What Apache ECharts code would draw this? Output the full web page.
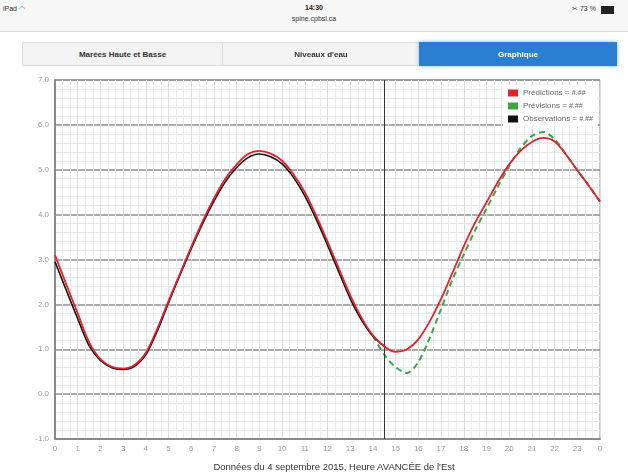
<!DOCTYPE html>
<html>
<head>
<meta charset="utf-8">
<script src="https://cdn.jsdelivr.net/npm/echarts@6/dist/echarts.min.js"></script>
<style>
  html, body { margin: 0; padding: 0; background: #fff; width: 628px; height: 475px; overflow: hidden; font-family: "Liberation Sans", Arial, sans-serif; }
  #chart { position: absolute; left: 0; top: 0; width: 628px; height: 475px; }
  .abs { position: absolute; white-space: nowrap; z-index: 5; }
  #status { position: absolute; left: 0; top: 0; width: 628px; height: 31px; background: #f7f7f7; border-bottom: 1px solid #d8d8d8; z-index: 4; }
  .tab { position: absolute; top: 42px; height: 24px; line-height: 24px; text-align: center; font-size: 8px; font-weight: bold; color: #333; background: #f3f3f3; border: 1px solid #dcdcdc; box-sizing: border-box; z-index: 5; }
  #footer { position: absolute; left: 0; width: 668px; top: 461px; text-align: center; font-size: 9.5px; color: #333; z-index: 5; }
</style>
</head>
<body>
<div id="chart"></div>
<div id="status"></div>
<div class="abs" style="left:3px;top:5px;font-size:7px;color:#333;">iPad &#x25E0;</div>
<div class="abs" style="left:0;width:628px;text-align:center;top:4px;font-size:7px;font-weight:bold;color:#222;">14:30</div>
<div class="abs" style="left:0;width:628px;text-align:center;top:15px;font-size:7px;color:#333;">spine.cpbsl.ca</div>
<div class="abs" style="left:572px;top:5px;font-size:7px;color:#333;">&#x2702; 73 %</div>
<div class="abs" style="left:601px;top:6px;width:11px;height:6px;background:#222;border:1px solid #222;"></div>
<div class="tab" style="left:22px;width:201px;">Marées Haute et Basse</div>
<div class="tab" style="left:222px;width:198px;">Niveaux d'eau</div>
<div class="tab" style="left:419px;width:198px;background:#2b7fd2;border-color:#2b7fd2;color:#fff;box-shadow:0 0 4px #7fb4ea;">Graphique</div>
<div id="footer">Données du 4 septembre 2015, Heure AVANCÉE de l'Est</div>
<script>
// ---- data (half-hourly) ----
const predHours  = [0,0.5,1,1.5,2,2.5,3,3.5,4,4.5,5,5.5,6,6.5,7,7.5,8,8.5,9,9.5,10,10.5,11,11.5,12,12.5,13,13.5,14,14.5,15,15.5,16,16.5,17,17.5,18,18.5,19,19.5,20,20.5,21,21.5,22,22.5,23,23.5,24];
const predValues = [3.10,2.44,1.80,1.16,0.78,0.61,0.57,0.65,0.92,1.45,2.08,2.68,3.28,3.85,4.36,4.80,5.12,5.35,5.42,5.36,5.20,4.90,4.50,3.98,3.40,2.80,2.20,1.70,1.31,1.06,0.94,1.00,1.22,1.62,2.12,2.70,3.29,3.82,4.27,4.72,5.12,5.42,5.62,5.71,5.63,5.34,4.99,4.65,4.29];

const obsHours  = [0,0.5,1,1.5,2,2.5,3,3.5,4,4.5,5,5.5,6,6.5,7,7.5,8,8.5,9,9.5,10,10.5,11,11.5,12,12.5,13,13.5,14,14.5];
const obsValues = [2.95,2.31,1.68,1.08,0.75,0.59,0.55,0.62,0.88,1.40,2.04,2.65,3.24,3.80,4.30,4.73,5.05,5.27,5.35,5.29,5.13,4.83,4.42,3.90,3.32,2.72,2.13,1.65,1.29,1.07];

const fcstHours  = [14,14.5,15,15.5,16,16.5,17,17.5,18,18.5,19,19.5,20,20.5,21,21.5,22,22.5,23,23.5,24];
const fcstValues = [1.30,0.88,0.60,0.47,0.72,1.25,1.90,2.55,3.11,3.65,4.13,4.62,5.08,5.48,5.75,5.84,5.68,5.34,4.99,4.65,4.29];

const nowHour = [14.5];
const seriesNames = ['Prédictions', 'Prévisions', 'Observations'];
const seriesColors = ['#e3202b', '#3aa648', '#111111'];

function pairs(xs, ys) { return xs.map((x, i) => [x, ys[i]]); }

const chart = echarts.init(document.getElementById('chart'), null, { renderer: 'canvas' });
chart.setOption({
  animation: false,
  grid: { left: 55, right: 28, top: 80, bottom: 36, show: true, borderColor: '#8a8a8a', borderWidth: 1, backgroundColor: 'transparent' },
  legend: {
    orient: 'vertical', left: 503, top: 85, backgroundColor: '#fff',
    padding: [4, 5, 3, 5], itemGap: 5, itemWidth: 10, itemHeight: 7, icon: 'rect',
    data: seriesNames.map((n, i) => ({ name: n, itemStyle: { color: seriesColors[i] } })),
    formatter: name => name + ' = {i|#.##}',
    textStyle: { fontSize: 8, color: '#666', fontFamily: 'Liberation Sans', rich: { i: { fontSize: 7, fontStyle: 'italic', color: '#666' } } }
  },
  xAxis: {
    type: 'value', min: 0, max: 24, interval: 1,
    axisLine: { show: true, onZero: false, lineStyle: { color: '#8a8a8a', width: 2 } },
    axisTick: { show: false },
    axisLabel: { fontSize: 8, color: '#999', margin: 6, fontFamily: 'Liberation Sans', formatter: v => String(v % 24) },
    splitLine: { show: true, lineStyle: { color: '#dedede', width: 1 } },
    minorTick: { show: false, splitNumber: 3 },
    minorSplitLine: { show: true, lineStyle: { color: '#ececec', width: 1 } }
  },
  yAxis: {
    type: 'value', min: -1, max: 7, interval: 1,
    axisLine: { show: true, lineStyle: { color: '#8a8a8a', width: 2 } },
    axisTick: { show: false },
    axisLabel: { fontSize: 8, color: '#999', margin: 6, fontFamily: 'Liberation Sans', formatter: v => v.toFixed(1) },
    splitLine: { show: true, lineStyle: { color: '#8f8f8f', width: 1.5 } },
    minorTick: { show: false, splitNumber: 5 },
    minorSplitLine: { show: true, lineStyle: { color: '#e6e6e6', width: 1 } }
  },
  series: [
    {
      name: 'Prévisions', type: 'line', smooth: 0.3, showSymbol: false, z: 3,
      data: pairs(fcstHours, fcstValues),
      itemStyle: { color: seriesColors[1] },
      lineStyle: { color: seriesColors[1], width: 2, type: [6, 4] }
    },
    {
      name: 'Observations', type: 'line', smooth: 0.3, showSymbol: false, z: 4,
      data: pairs(obsHours, obsValues),
      itemStyle: { color: seriesColors[2] },
      lineStyle: { color: seriesColors[2], width: 1.6 },
      markLine: {
        silent: true, symbol: ['none', 'none'], label: { show: false },
        lineStyle: { color: '#333', width: 1, type: 'solid' },
        data: nowHour.map(h => ({ xAxis: h }))
      }
    },
    {
      name: 'Prédictions', type: 'line', smooth: 0.3, showSymbol: false, z: 5,
      data: pairs(predHours, predValues),
      itemStyle: { color: seriesColors[0] },
      lineStyle: { color: seriesColors[0], width: 1.8 }
    }
  ]
});
</script>
</body>
</html>
